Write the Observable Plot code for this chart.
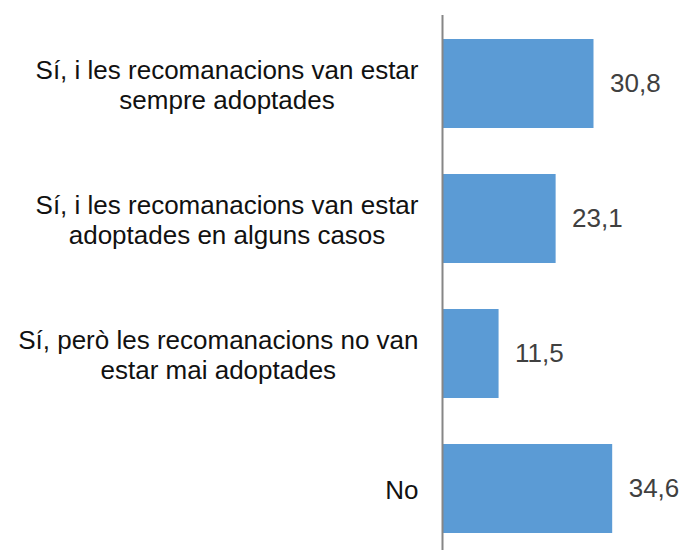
<!DOCTYPE html>
<html>
<head>
<meta charset="utf-8">
<script src="https://cdn.jsdelivr.net/npm/d3@7"></script>
<script src="https://cdn.jsdelivr.net/npm/@observablehq/plot@0.6"></script>
<style>
  html, body { margin: 0; padding: 0; background: #fff; }
</style>
</head>
<body>
<div id="chart"></div>
<script>
const categories = [
  "Sí, i les recomanacions van estar\nsempre adoptades",
  "Sí, i les recomanacions van estar\nadoptades en alguns casos",
  "Sí, però les recomanacions no van\nestar mai adoptades",
  "No"
];
const values = [30.8, 23.1, 11.5, 34.6];

const data = categories.map((c, i) => ({category: c, value: values[i]}));

const fontFamily = "'Liberation Sans', Arial, sans-serif";
const fontSize = 26;
const ctx = document.createElement("canvas").getContext("2d");
ctx.font = `${fontSize}px ${fontFamily}`;
const blockWidth = c => d3.max(c.split("\n"), l => ctx.measureText(l).width);

// each label block: lines centred, block right edge 24px left of the axis
const labelMarks = data.map(d =>
  Plot.text([d], {
    x: () => 0, y: "category", text: "category",
    textAnchor: "middle", dx: -(24 + blockWidth(d.category) / 2),
    fontSize, lineHeight: 1.15, fill: "#111"
  })
);

const chart = Plot.plot({
  width: 684,
  height: 550,
  marginLeft: 442,
  marginRight: 0,
  marginTop: 15,
  marginBottom: 0,
  style: {fontFamily, background: "#fff"},
  x: {domain: [0, 49.2], axis: null},
  y: {domain: categories, axis: null, paddingInner: 0.344, paddingOuter: 0.144, align: 0.59},
  marks: [
    Plot.barX(data, {x: "value", y: "category", fill: "#5B9BD5"}),
    Plot.ruleX([0], {stroke: "#868686", strokeWidth: 2}),
    ...labelMarks,
    Plot.text(data, {x: "value", y: "category", text: d => d.value.toFixed(1).replace(".", ","), textAnchor: "start", dx: 16, fontSize, fill: "#404040"})
  ]
});
document.getElementById("chart").appendChild(chart);
</script>
</body>
</html>
